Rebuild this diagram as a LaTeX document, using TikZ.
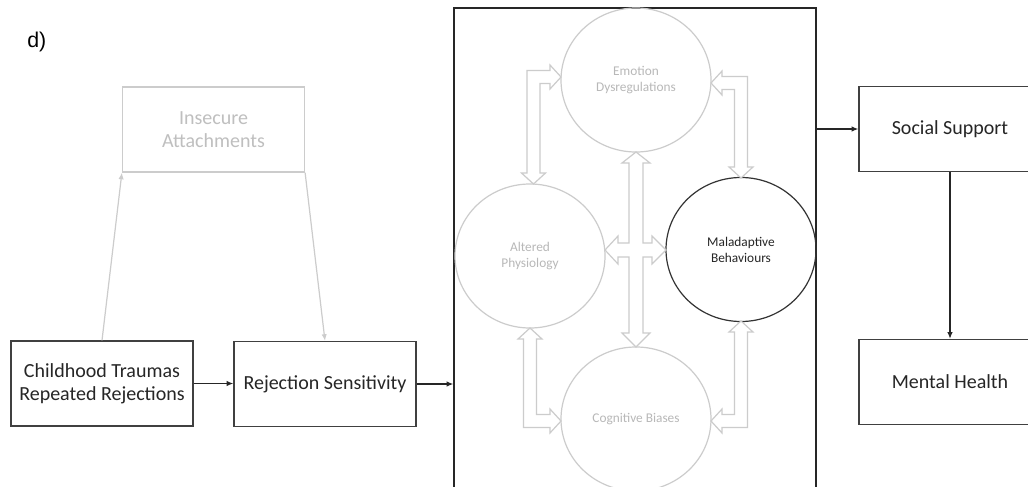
\documentclass[tikz,border=0pt]{standalone}
\usepackage{fontspec}
\setmainfont{Carlito}
\newfontfamily\arialfont{Liberation Sans}
\usetikzlibrary{arrows.meta,shapes.geometric}
\newcommand{\LArr}[6]{% corner x, corner y, horizontal tip x, vertical tip y, sx, sy
 \draw[blk] (#3,#2) -- ({#3-(#5)*11},{#2-(#6)*12}) -- ({#3-(#5)*11},{#2-(#6)*6.5})
 -- ({#1-(#5)*6.5},{#2-(#6)*6.5}) -- ({#1-(#5)*6.5},{#4-(#6)*11}) -- ({#1-(#5)*12},{#4-(#6)*11})
 -- (#1,#4) -- ({#1+(#5)*12},{#4-(#6)*11}) -- ({#1+(#5)*6.5},{#4-(#6)*11})
 -- ({#1+(#5)*6.5},{#2+(#6)*6.5}) -- ({#3-(#5)*11},{#2+(#6)*6.5}) -- ({#3-(#5)*11},{#2+(#6)*12}) -- cycle;}
\begin{document}
\begin{tikzpicture}[x=0.75pt,y=-0.75pt,
 box/.style={draw=black!75, line width=0.9pt, minimum width=136.5pt, minimum height=63.75pt, inner sep=0pt, align=center, font=\fontsize{15}{17.5}\selectfont, text=black!85},
 gbox/.style={box, draw=black!20, text=black!25},
 circ/.style={ellipse, draw=black!20, line width=0.9pt, minimum width=112.5pt, minimum height=108pt, inner sep=0pt, align=center, font=\fontsize{10}{12}\selectfont, text=black!28},
 dcirc/.style={circ, draw=black!80, text=black!85},
 conn/.style={-{Latex[length=5pt,width=4pt]}, line width=0.9pt, draw=black!85},
 gconn/.style={conn, draw=black!20},
 blk/.style={draw=black!20, fill=white, line width=0.9pt, line join=miter}]
\useasboundingbox (0,0) rectangle (1028,486);
\clip (0,0) rectangle (1028,486);
\fill[white] (0,0) rectangle (1028,486);
\node[anchor=base west, inner sep=0pt, font=\arialfont\fontsize{16}{19}\selectfont] (lab) at (27,47) {d)};
% left part
\node[box] (child) at (102,383.5) {Childhood Traumas\\Repeated Rejections};
\node[box] (rej) at (325,384) {Rejection Sensitivity};
\node[gbox] (ins) at (213.5,129.5) {Insecure\\Attachments};
% big frame
\node[draw=black!85, line width=0.9pt, minimum width=271.5pt, minimum height=369pt, inner sep=0pt] (frame) at (635,254) {};
% circles
\node[circ] (emo) at (636,80) {Emotion\\Dysregulations};
\node[circ] (alt) at (530,256) {Altered\\Physiology};
\node[dcirc] (mal) at (741,249.5) {Maladaptive\\Behaviours};
\node[circ] (cog) at (636,419) {Cognitive Biases};
% block arrows
\LArr{533.5}{77}{561}{184}{1}{1}
\LArr{741}{83}{711}{178}{-1}{1}
\LArr{530}{421}{561}{328}{1}{-1}
\LArr{741}{421}{711}{321}{-1}{-1}
\draw[blk] (636,152) -- (650,163) -- (643,163) -- (643,243) -- (652,243) -- (652,236) -- (666,250)
 -- (652,264) -- (652,257) -- (643,257) -- (643,333) -- (650,333) -- (636,347) -- (622,333)
 -- (629,333) -- (629,257) -- (618,257) -- (618,264) -- (605,250) -- (618,236) -- (618,243)
 -- (629,243) -- (629,163) -- (622,163) -- cycle;
% right part
\node[box] (soc) at (950,129) {Social Support};
\node[box] (men) at (950,382) {Mental Health};
% connectors
\draw[gconn] (child.north) -- (ins.south west);
\draw[gconn] (ins.south east) -- (rej.north);
\draw[conn] (child.east) -- (child.east -| rej.west);
\draw[conn] (rej.east) -- (rej.east -| frame.west);
\draw[conn] (frame.east |- soc.west) -- (soc.west);
\draw[conn] (soc.south) -- (men.north);
\end{tikzpicture}
\end{document}
